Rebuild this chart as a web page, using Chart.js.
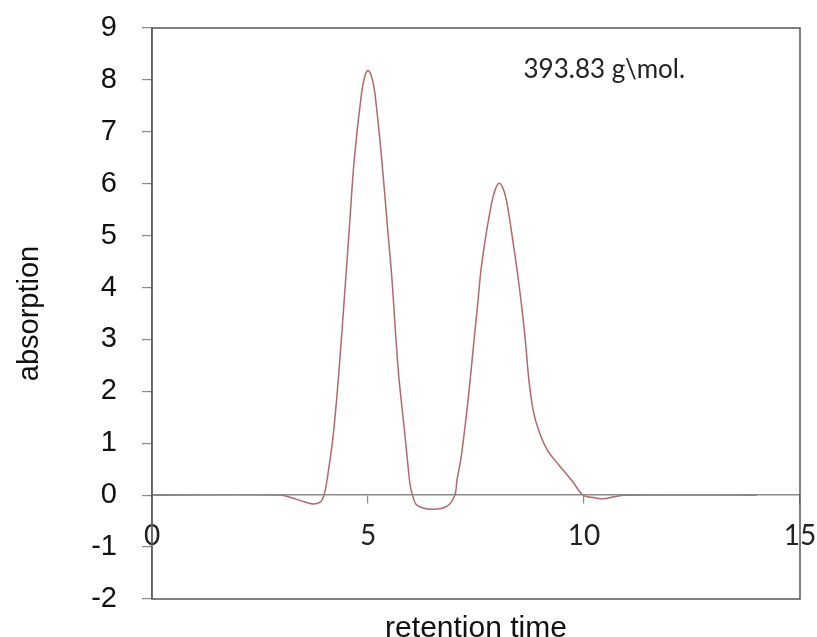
<!DOCTYPE html>
<html>
<head>
<meta charset="utf-8">
<script src="https://cdn.jsdelivr.net/npm/chart.js@4/dist/chart.umd.min.js"></script>
<style>
  html, body { margin: 0; padding: 0; background: #fff; }
  #wrap { width: 817px; height: 637px; }
</style>
</head>
<body>
<div id="wrap"><canvas id="chromChart" width="817" height="637"></canvas></div>
<script>
// values
const retentionTimes = [0, 3.0, 3.27, 3.5, 3.73, 3.9, 3.98, 4.04, 4.19, 4.33, 4.47, 4.57, 4.68, 4.85, 4.93, 5.0,
  5.08, 5.16, 5.32, 5.45, 5.55, 5.70, 5.86, 5.97, 6.03, 6.13, 6.48, 6.83, 7.01, 7.06, 7.15, 7.25, 7.35, 7.45,
  7.54, 7.61, 7.71, 7.8, 7.88, 7.96, 8.04, 8.12, 8.2, 8.3, 8.45, 8.55, 8.64, 8.72, 8.82, 8.95, 9.15, 9.42, 9.73, 9.98,
  10.25, 10.45, 10.7, 10.92, 14];
const absorption = [0, 0, -0.06, -0.12, -0.17, -0.13, 0, 0.23, 1.12, 2.41, 4.0, 5.17, 6.45, 7.74, 8.08, 8.18,
  8.07, 7.74, 6.45, 5.17, 4.21, 2.41, 1.12, 0.23, 0, -0.19, -0.27, -0.21, 0, 0.29, 0.7, 1.35, 2.1, 2.95,
  3.69, 4.3, 4.9, 5.35, 5.7, 5.92, 6.01, 5.92, 5.7, 5.2, 4.34, 3.69, 3.0, 2.25, 1.65, 1.25, 0.87, 0.58, 0.27, 0,
  -0.05, -0.07, -0.03, 0, 0];
const xTicks = [0, 5, 10, 15];
const yTicks = [-2, -1, 0, 1, 2, 3, 4, 5, 6, 7, 8, 9];
const noteText = '393.83 g\\mol.';
const notePos = { x: 8.6, y: 8.2 };

const points = retentionTimes.map((t, i) => ({ x: t, y: absorption[i] }));

// plot frame + the molar mass note
const framePlugin = {
  id: 'frame',
  afterDraw(chart) {
    const { ctx, chartArea: a, scales } = chart;
    ctx.save();
    ctx.strokeStyle = '#555';
    ctx.lineWidth = 1.5;
    ctx.strokeRect(a.left, a.top, a.right - a.left, a.bottom - a.top);
    ctx.fillStyle = '#222';
    ctx.font = '26px Lato, "Open Sans", sans-serif';
    ctx.textBaseline = 'middle';
    ctx.fillText(noteText, scales.x.getPixelForValue(notePos.x), scales.y.getPixelForValue(notePos.y));
    ctx.restore();
  }
};

function noOverflow(scale) {
  scale.paddingTop = 0;
  scale.paddingBottom = 0;
  scale.paddingLeft = 0;
  scale.paddingRight = 0;
}

const ctx = document.getElementById('chromChart').getContext('2d');
const myChart = new Chart(ctx, {
  type: 'line',
  data: {
    datasets: [{
      label: 'absorption',
      data: points,
      borderColor: '#b06a6a',
      borderWidth: 1.5,
      pointRadius: 0,
      fill: false,
      tension: 0.3
    }]
  },
  options: {
    responsive: false,
    animation: false,
    layout: { padding: { top: 28, right: 17, left: 0, bottom: 0 } },
    plugins: { legend: { display: false }, tooltip: { enabled: false } },
    scales: {
      x: {
        type: 'linear',
        position: 'bottom',
        min: 0, max: 15,
        grid: { display: false },
        border: { display: false },
        ticks: { display: false },
        title: {
          display: true,
          text: 'retention time',
          color: '#111',
          font: { family: '"Liberation Sans", Arial, sans-serif', size: 30 },
          padding: { top: 0, bottom: -10 }
        },
        afterFit(scale) { scale.height = 38; noOverflow(scale); }
      },
      x2: {
        type: 'linear',
        position: { y: 0 },
        min: 0, max: 15,
        afterBuildTicks(scale) { scale.ticks = xTicks.map(v => ({ value: v })); },
        grid: { drawOnChartArea: false, tickLength: 8, color: '#888', lineWidth: 1.2 },
        border: { display: true, color: '#8a8a8a', width: 1.5, z: 1 },
        ticks: {
          color: '#222',
          padding: 16,
          font: { family: 'Lato, "Open Sans", sans-serif', size: 28 }
        },
        afterFit(scale) { scale.height = 0; noOverflow(scale); }
      },
      y: {
        type: 'linear',
        position: 'left',
        min: -2, max: 9,
        afterBuildTicks(scale) { scale.ticks = yTicks.map(v => ({ value: v })); },
        grid: { drawOnChartArea: false, tickLength: 10, color: '#888', lineWidth: 1.2 },
        border: { display: true, color: '#888', width: 1.5 },
        ticks: {
          color: '#111',
          padding: 25,
          font: { family: '"Liberation Sans", Arial, sans-serif', size: 29 }
        },
        title: {
          display: true,
          text: 'absorption',
          color: '#111',
          font: { family: '"Liberation Sans", Arial, sans-serif', size: 29 },
          padding: { top: 13, bottom: 0 }
        },
        afterFit(scale) { scale.width = 152; noOverflow(scale); }
      }
    }
  },
  plugins: [framePlugin]
});
</script>
</body>
</html>
